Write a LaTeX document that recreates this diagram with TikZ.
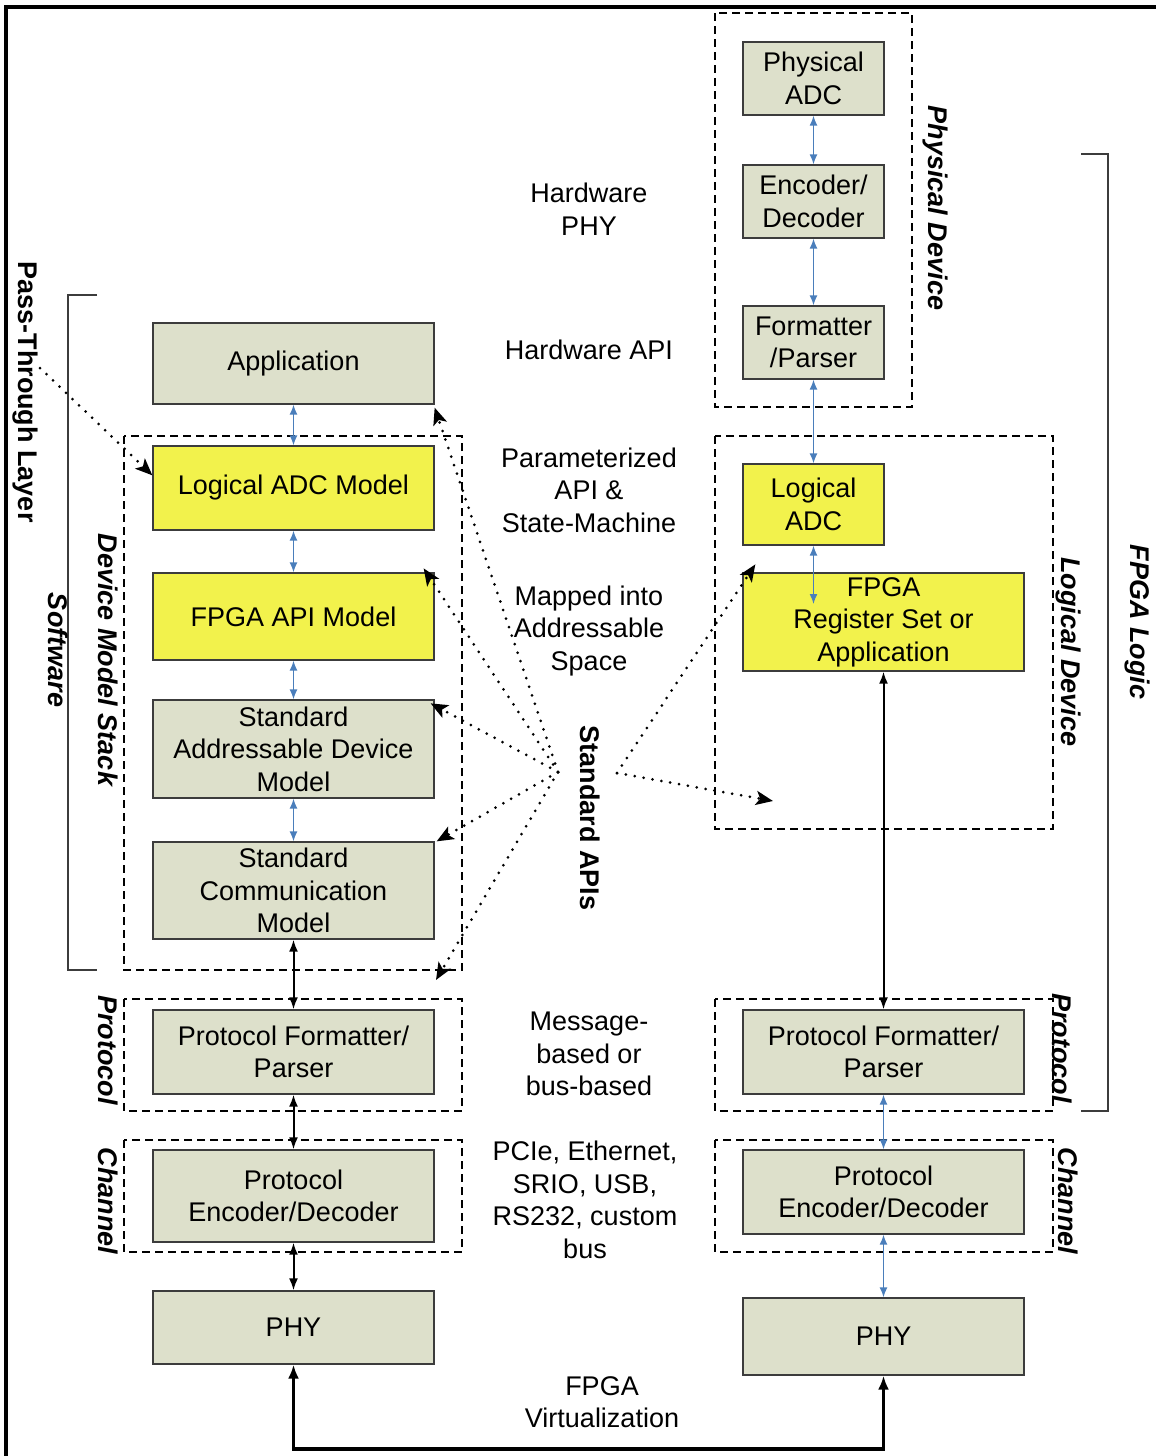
\documentclass[tikz,border=0pt]{standalone}
\usepackage{fontspec}
\setmainfont{Liberation Sans}
\usetikzlibrary{arrows.meta,calc}
\definecolor{boxgray}{RGB}{221,224,203}
\definecolor{boxyellow}{RGB}{242,242,76}
\definecolor{arrowblue}{RGB}{74,126,187}
\definecolor{edgegray}{RGB}{60,60,60}
\begin{document}
\begin{tikzpicture}[x=1pt,y=-1pt,
 every node/.style={font=\fontsize{27}{32.5}\selectfont, align=center, inner sep=0pt},
 gbox/.style={draw=edgegray, line width=1.3pt, fill=boxgray, rectangle},
 ybox/.style={draw=edgegray, line width=1.3pt, fill=boxyellow, rectangle},
 dashbox/.style={draw=black, line width=1.8pt, dash pattern=on 8pt off 5pt},
 bluearrow/.style={draw=arrowblue, line width=1.5pt, {Latex[length=10pt,width=8pt]}-{Latex[length=10pt,width=8pt]}},
 blackarrow/.style={draw=black, line width=2pt, {Latex[length=12pt,width=9pt]}-{Latex[length=12pt,width=9pt]}},
 bigarrow/.style={draw=black, line width=3.2pt, {Latex[length=14pt,width=11pt]}-{Latex[length=14pt,width=11pt]}},
 dotarrow/.style={draw=black, line width=3pt, line cap=round, dash pattern=on 0pt off 9pt, -{Stealth[length=17pt,width=14pt,inset=4pt]}},
 bracket/.style={draw=edgegray, line width=1.5pt},
 sidelabel/.style={font=\fontsize{27}{32.5}\selectfont\bfseries\itshape, rotate=-90},
 plainlabel/.style={font=\fontsize{27}{32.5}\selectfont}
]
\useasboundingbox (0,0) rectangle (1156,1456);
\clip (0,0) rectangle (1156,1456);
\fill[white] (0,0) rectangle (1156,1456);
% outer border
\draw[line width=4pt] (6,1470) -- (6,7) -- (1170,7);

% brackets
\draw[bracket] (97,295) -- (68,295) -- (68,970) -- (97,970);
\draw[bracket] (1081,154) -- (1108,154) -- (1108,1111) -- (1081,1111);

% dashed groups
\draw[dashbox] (124,436) rectangle (462,970);
\draw[dashbox] (124,999) rectangle (462,1111);
\draw[dashbox] (124,1140) rectangle (462,1252);
\draw[dashbox] (715,13) rectangle (912,407);
\draw[dashbox] (715,436) rectangle (1053,829);
\draw[dashbox] (715,999) rectangle (1053,1111);
\draw[dashbox] (715,1140) rectangle (1053,1252);

% left column
\node[gbox, minimum width=281, minimum height=81] (app) at (293.5,363.5) {Application};
\node[ybox, minimum width=281, minimum height=84] (lam) at (293.5,488) {Logical ADC Model};
\node[ybox, minimum width=281, minimum height=87] (fam) at (293.5,616.5) {FPGA API Model};
\node[gbox, minimum width=281, minimum height=98] (sad) at (293.5,749) {Standard\\Addressable Device\\Model};
\node[gbox, minimum width=281, minimum height=97] (scm) at (293.5,890.5) {Standard\\Communication\\Model};
\node[gbox, minimum width=281, minimum height=84] (lpf) at (293.5,1052) {Protocol Formatter/\\Parser};
\node[gbox, minimum width=281, minimum height=92] (lpe) at (293.5,1196) {Protocol\\Encoder/Decoder};
\node[gbox, minimum width=281, minimum height=73] (lphy) at (293.5,1327.5) {PHY};

% right column
\node[gbox, minimum width=141, minimum height=73] (pa) at (813.5,78.5) {Physical\\ADC};
\node[gbox, minimum width=141, minimum height=73] (ed) at (813.5,201.5) {Encoder/\\Decoder};
\node[gbox, minimum width=141, minimum height=73] (fp) at (813.5,342.5) {Formatter\\/Parser};
\node[ybox, minimum width=141, minimum height=81] (ladc) at (813.5,504.5) {Logical\\ADC};
\node[ybox, minimum width=281, minimum height=98] (freg) at (883.5,622) {FPGA\\Register Set or\\Application};
\node[gbox, minimum width=281, minimum height=84] (rpf) at (883.5,1052) {Protocol Formatter/\\Parser};
\node[gbox, minimum width=281, minimum height=84] (rpe) at (883.5,1192) {Protocol\\Encoder/Decoder};
\node[gbox, minimum width=281, minimum height=77] (rphy) at (883.5,1336.5) {PHY};

% center texts
\node[plainlabel] (thwphy) at (589,209) {Hardware\\PHY};
\node[plainlabel] (thwapi) at (589,350) {Hardware API};
\node[plainlabel] (tparam) at (589,490) {Parameterized\\API \&\\State-Machine};
\node[plainlabel] (tmapped) at (589,631) {Mapped into\\Addressable\\Space};
\node[font=\fontsize{27}{32.5}\selectfont\bfseries, rotate=-90] (tstd) at (590,818) {Standard APIs};
\node[plainlabel] (tmsg) at (589,1054) {Message-\\based or\\bus-based};
\node[plainlabel] (tpcie) at (585,1200) {PCIe, Ethernet,\\SRIO, USB,\\RS232, custom\\bus};
\node[plainlabel] (tvirt) at (602,1402) {FPGA\\Virtualization};

% side labels
\node[font=\fontsize{27}{32.5}\selectfont\bfseries, rotate=-90] (tpass) at (25,392) {Pass-Through Layer};
\node[sidelabel] (tsoft) at (58,650) {Software};
\node[sidelabel] (tdms) at (108,660) {Device Model Stack};
\node[sidelabel] (tlprot) at (108,1050) {Protocol};
\node[sidelabel] (tlchan) at (108,1201) {Channel};
\node[sidelabel] (tphysd) at (935,208) {Physical Device};
\node[sidelabel] (tlogd) at (1068,652) {Logical Device};
\node[sidelabel] (tfpgal) at (1137,622) {FPGA Logic};
\node[sidelabel] (trprot) at (1062,1048) {Protocol};
\node[sidelabel] (trchan) at (1068,1201) {Channel};

% solid connectors left
\draw[bluearrow] (app.south) -- (lam.north);
\draw[bluearrow] (lam.south) -- (fam.north);
\draw[bluearrow] (fam.south) -- (sad.north);
\draw[bluearrow] (sad.south) -- (scm.north);
\draw[blackarrow] (scm.south) -- (lpf.north);
\draw[blackarrow] (lpf.south) -- (lpe.north);
\draw[blackarrow] (lpe.south) -- (lphy.north);

% solid connectors right
\draw[bluearrow] (pa.south) -- (ed.north);
\draw[bluearrow] (ed.south) -- (fp.north);
\draw[bluearrow] (fp.south) -- (ladc.north);
\coordinate (fregin) at (813.5,604);
\draw[bluearrow] (ladc.south) -- (fregin);
\draw[blackarrow] (freg.south) -- (rpf.north);
\draw[bluearrow] (rpf.south) -- (rpe.north);
\draw[bluearrow] (rpe.south) -- (rphy.north);

% virtualization loop
\draw[bigarrow] (lphy.south) -- (293.5,1449) -| (rphy.south);

% dotted arrows
\coordinate (passstart) at (40,368);
\coordinate (stdl) at (558,772);
\coordinate (stdr) at (617,773);
\coordinate (botend) at (436,980);
\coordinate (rightend) at (773,801);
\draw[dotarrow] (passstart) -- ($(lam.north west)+(0,30)$);
\draw[dotarrow] (stdl) -- ($(app.south east)+(0,3)$);
\draw[dotarrow] (stdl) -- ($(fam.north east)+(-11,-4)$);
\draw[dotarrow] (stdl) -- ($(sad.north east)+(-4,4)$);
\draw[dotarrow] (stdl) -- ($(scm.north east)+(2,0)$);
\draw[dotarrow] (stdl) -- (botend);
\draw[dotarrow] (stdr) -- ($(freg.north west)+(13,-8)$);
\draw[dotarrow] (stdr) -- (rightend);
\end{tikzpicture}
\end{document}
